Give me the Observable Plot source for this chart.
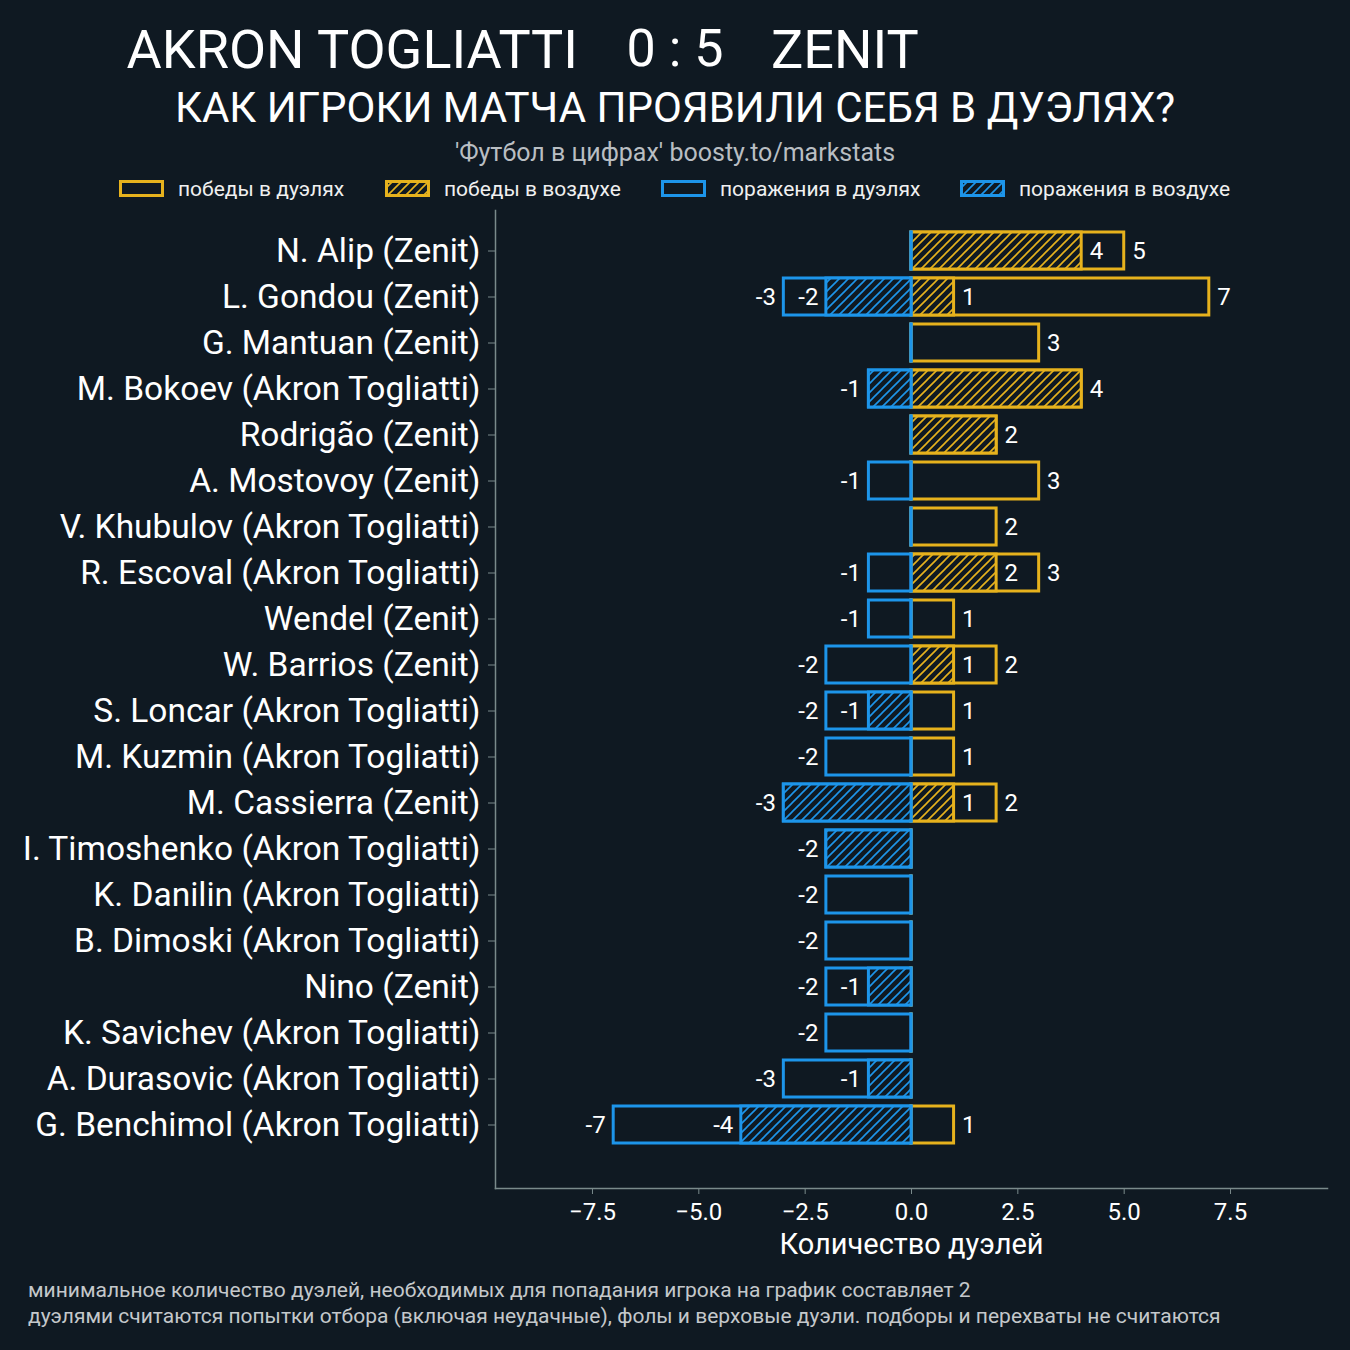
<!DOCTYPE html>
<html>
<head>
<meta charset="utf-8">
<script src="https://cdn.jsdelivr.net/npm/d3@7"></script>
<script src="https://cdn.jsdelivr.net/npm/@observablehq/plot@0.6"></script>
<style>
  html, body { margin: 0; padding: 0; background: #0f1922; }
  body { width: 1350px; height: 1350px; position: relative; overflow: hidden; font-family: Roboto, "Noto Sans", sans-serif; color: white; }
  .t { position: absolute; line-height: 1; white-space: nowrap; }
  #chart { position: absolute; left: 0; top: 200px; }
  .leg { position: absolute; top: 180px; height: 18px; display: flex; align-items: center; font-size: 21px; color: #f0f0f0; }
  .leg svg { margin-right: 14px; }
</style>
</head>
<body>
<svg width="0" height="0" style="position:absolute">
  <defs>
    <pattern id="hatchY" patternUnits="userSpaceOnUse" width="9" height="9">
      <rect width="9" height="9" fill="#0f1922"/>
      <path d="M-1,1 l2,-2 M0,9 l9,-9 M8,10 l2,-2" stroke="#e6b21d" stroke-width="1.6"/>
    </pattern>
    <pattern id="hatchB" patternUnits="userSpaceOnUse" width="9" height="9">
      <rect width="9" height="9" fill="#0f1922"/>
      <path d="M-1,1 l2,-2 M0,9 l9,-9 M8,10 l2,-2" stroke="#1d95ea" stroke-width="1.6"/>
    </pattern>
  </defs>
</svg>

<div class="t" style="top:23px; right:772px; font-size:54px;">AKRON TOGLIATTI</div>
<div class="t" style="top:23px; left:675px; transform:translateX(-50%); font-size:52px;">0 : 5</div>
<div class="t" style="top:23px; left:771px; font-size:54px;">ZENIT</div>
<div class="t" style="top:87px; left:675px; transform:translateX(-50%); font-size:42px;">КАК ИГРОКИ МАТЧА ПРОЯВИЛИ СЕБЯ В ДУЭЛЯХ?</div>
<div class="t" style="top:140px; left:675px; transform:translateX(-50%); font-size:25px; color:#b9bec2;">'Футбол в цифрах' boosty.to/markstats</div>

<div id="legend"></div>
<div id="chart"></div>

<div class="t" style="top:1280px; left:28px; font-size:21px; color:#c4c8cb;">минимальное количество дуэлей, необходимых для попадания игрока на график составляет 2</div>
<div class="t" style="top:1306px; left:28px; font-size:21px; color:#c4c8cb;">дуэлями считаются попытки отбора (включая неудачные), фолы и верховые дуэли. подборы и перехваты не считаются</div>

<script>
// ---- data ----
const players = [
  "N. Alip (Zenit)",
  "L. Gondou (Zenit)",
  "G. Mantuan (Zenit)",
  "M. Bokoev (Akron Togliatti)",
  "Rodrigão (Zenit)",
  "A. Mostovoy (Zenit)",
  "V. Khubulov (Akron Togliatti)",
  "R. Escoval (Akron Togliatti)",
  "Wendel (Zenit)",
  "W. Barrios (Zenit)",
  "S. Loncar (Akron Togliatti)",
  "M. Kuzmin (Akron Togliatti)",
  "M. Cassierra (Zenit)",
  "I. Timoshenko (Akron Togliatti)",
  "K. Danilin (Akron Togliatti)",
  "B. Dimoski (Akron Togliatti)",
  "Nino (Zenit)",
  "K. Savichev (Akron Togliatti)",
  "A. Durasovic (Akron Togliatti)",
  "G. Benchimol (Akron Togliatti)"
];
const duelWins    = [5, 7, 3, 4, 2, 3, 2, 3, 1, 2, 1, 1, 2, 0, 0, 0, 0, 0, 0, 1];
const aerialWins  = [4, 1, 0, 4, 2, 0, 0, 2, 0, 1, 0, 0, 1, 0, 0, 0, 0, 0, 0, 0];
const duelLosses  = [0, -3, 0, -1, 0, -1, 0, -1, -1, -2, -2, -2, -3, -2, -2, -2, -2, -2, -3, -7];
const aerialLosses= [0, -2, 0, -1, 0, 0, 0, 0, 0, 0, -1, 0, -3, -2, 0, 0, -1, 0, -1, -4];
const xTicks = [-7.5, -5, -2.5, 0, 2.5, 5, 7.5];
const legendLabels = ["победы в дуэлях", "победы в воздухе", "поражения в дуэлях", "поражения в воздухе"];

const YELLOW = "#e6b21d", BLUE = "#1d95ea", BG = "#0f1922", AXIS = "#7a8a8b";

const rows = players.map((p, i) => ({
  player: p, wins: duelWins[i], airWins: aerialWins[i], losses: duelLosses[i], airLosses: aerialLosses[i]
}));

// ---- legend ----
const legendX = [119, 385, 661, 960];
const legendSw = [{s: YELLOW, f: BG}, {s: YELLOW, f: "url(#hatchY)"}, {s: BLUE, f: BG}, {s: BLUE, f: "url(#hatchB)"}];
const legendEl = document.getElementById("legend");
legendLabels.forEach((lab, i) => {
  const d = document.createElement("div");
  d.className = "leg";
  d.style.left = legendX[i] + "px";
  d.innerHTML = `<svg width="45" height="18"><rect x="1.5" y="1.5" width="42" height="14" fill="${legendSw[i].f}" stroke="${legendSw[i].s}" stroke-width="3"/></svg><span>${lab}</span>`;
  legendEl.appendChild(d);
});

// ---- chart ----
const fmt = d3.format(".1f");
const barOpts = {y: "player", strokeWidth: 3, insetLeft: -0.05, insetRight: -0.05};
const chart = Plot.plot({
  width: 1350,
  height: 1070,
  marginLeft: 495,
  marginRight: 23,
  marginTop: 10,
  marginBottom: 82,
  style: {background: "transparent", color: "white", fontFamily: "Roboto, sans-serif"},
  x: {domain: [-9.78, 9.78]},
  y: {domain: players, range: [26, 948], paddingInner: 0.2, paddingOuter: 0.1},
  marks: [
    Plot.frame({anchor: "left", stroke: AXIS, strokeWidth: 1.5}),
    Plot.frame({anchor: "bottom", stroke: AXIS, strokeWidth: 1.5}),
    Plot.axisX({ticks: xTicks, tickFormat: d => fmt(d).replace("-", "\u2212"), tickSize: 6, tickPadding: 8,
      stroke: AXIS, fill: "white", fontSize: 24, label: null}),
    Plot.axisY({tickSize: 7, tickPadding: 8, stroke: AXIS, fill: "white", fontSize: 33.5, label: null}),
    Plot.text(["Количество дуэлей"], {x: 0, frameAnchor: "bottom", dy: 65, fontSize: 29, fill: "white", text: d => d}),
    // wins
    Plot.rectX(rows, {...barOpts, x1: 0, x2: "wins", fill: BG, stroke: YELLOW}),
    Plot.rectX(rows, {...barOpts, x1: 0, x2: "airWins", fill: "url(#hatchY)", stroke: YELLOW}),
    // losses
    Plot.rectX(rows, {...barOpts, x1: 0, x2: "losses", fill: BG, stroke: BLUE}),
    Plot.rectX(rows, {...barOpts, x1: 0, x2: "airLosses", fill: "url(#hatchB)", stroke: BLUE}),
    // labels
    Plot.text(rows.filter(d => d.wins > 0), {x: "wins", y: "player", text: d => String(d.wins), textAnchor: "start", dx: 8, fill: "white", fontSize: 24}),
    Plot.text(rows.filter(d => d.airWins > 0 && d.airWins !== d.wins), {x: "airWins", y: "player", text: d => String(d.airWins), textAnchor: "start", dx: 8, fill: "white", fontSize: 24}),
    Plot.text(rows.filter(d => d.losses < 0), {x: "losses", y: "player", text: d => String(d.losses), textAnchor: "end", dx: -8, fill: "white", fontSize: 24}),
    Plot.text(rows.filter(d => d.airLosses < 0 && d.airLosses !== d.losses), {x: "airLosses", y: "player", text: d => String(d.airLosses), textAnchor: "end", dx: -8, fill: "white", fontSize: 24})
  ]
});
document.getElementById("chart").appendChild(chart);
</script>
</body>
</html>
